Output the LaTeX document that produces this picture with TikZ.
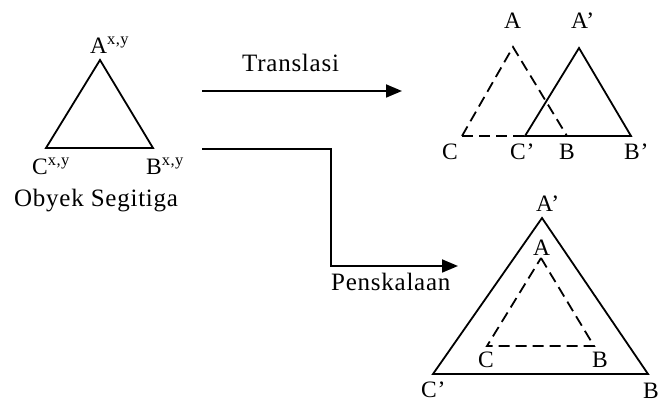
\documentclass[tikz,border=0pt]{standalone}
\usepackage{fontspec}
\setmainfont{Liberation Serif}[LetterSpace=3]
\usetikzlibrary{arrows.meta}
\begin{document}
\begin{tikzpicture}[x=1pt,y=-1pt,
  edge/.style={line width=1.8pt, line join=miter},
  dashedge/.style={line width=1.8pt, dash pattern=on 11pt off 6pt},
  lbl/.style={inner sep=0pt, anchor=base west, font=\fontsize{23.5}{28}\selectfont},
  caption/.style={lbl, font=\fontsize{25}{30}\selectfont},
  link/.style={line width=1.8pt, -{Triangle[length=16pt,width=13pt]}}]
\useasboundingbox (0,0) rectangle (659,403);

% source triangle
\coordinate (oA) at (100,60);
\coordinate (oC) at (46,148);
\coordinate (oB) at (153,148);
\draw[edge] (oA) -- (oB) -- (oC) -- cycle;
\node[lbl] (lA) at (90,54) {A\textsuperscript{x,y}};
\node[lbl] (lC) at (32,175) {C\textsuperscript{x,y}};
\node[lbl] (lB) at (146,175) {B\textsuperscript{x,y}};
\node[caption] (obj) at (14,207) {Obyek Segitiga};

% translation connector
\coordinate (t1) at (202,91);
\coordinate (t2) at (402,91);
\draw[link] (t1) -- (t2);
\node[caption] (trans) at (242,72) {Translasi};

% scaling connector
\coordinate (p1) at (202,149);
\coordinate (pk) at (331,266);
\coordinate (p2) at (458,266);
\draw[link] (p1) -| (pk) -- (p2);
\node[caption] (scal) at (331,291) {Penskalaan};

% translated triangle
\coordinate (tA) at (513,47);
\coordinate (tC) at (462,136);
\coordinate (tB) at (567,136);
\coordinate (uA) at (579,48);
\coordinate (uC) at (525,136);
\coordinate (uB) at (631,136);
\draw[dashedge] (tC) -- (tA) -- (tB);
\draw[dashedge] (tC) -- (uC);
\draw[edge] (uA) -- (uB) -- (uC) -- cycle;
\node[lbl] (ltA) at (504,29) {A};
\node[lbl] (luA) at (571,29) {A'};
\node[lbl] (ltC) at (442,160) {C};
\node[lbl] (luC) at (510,160) {C'};
\node[lbl] (ltB) at (559,160) {B};
\node[lbl] (luB) at (624,160) {B'};

% scaled triangle
\coordinate (sA) at (541,258);
\coordinate (sC) at (487,346);
\coordinate (sB) at (594,346);
\coordinate (rA) at (542,218);
\coordinate (rC) at (433,374);
\coordinate (rB) at (648,374);
\draw[edge] (rA) -- (rB) -- (rC) -- cycle;
\draw[dashedge] (sA) -- (sB) -- (sC) -- cycle;
\node[lbl] (lrA) at (536,212) {A'};
\node[lbl] (lsA) at (533,256) {A};
\node[lbl] (lsC) at (478,368) {C};
\node[lbl] (lsB) at (592,368) {B};
\node[lbl] (lrC) at (421,398) {C'};
\node[lbl] (lrB) at (643,399) {B};
\end{tikzpicture}
\end{document}
